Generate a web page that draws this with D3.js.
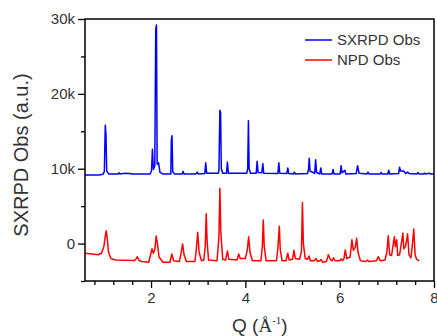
<!DOCTYPE html>
<html>
<head>
<meta charset="utf-8">
<script src="https://cdn.jsdelivr.net/npm/d3@7"></script>
<style>
  body { margin: 0; background: #fff; }
  svg text { font-family: "Liberation Sans", Arial, sans-serif; fill: #333; }
</style>
</head>
<body>
<div id="chart"></div>
<script>
// Q (1/Angstrom), intensity (counts)
var sxrpdObs = [
  [0.60, 9150], [0.90, 9150], [0.98, 9250], [1.01, 9600], [1.03, 15800], [1.045, 14500], [1.06, 9700],
  [1.10, 9300], [1.30, 9300], [1.32, 9450], [1.34, 9300], [1.45, 9400], [1.55, 9350], [1.60, 9280],
  [1.98, 9300], [2.01, 9700], [2.03, 12600], [2.05, 9900], [2.08, 10400], [2.10, 28600], [2.115, 29200],
  [2.13, 10600], [2.16, 10800], [2.19, 9500], [2.25, 9300], [2.42, 9300], [2.43, 13800], [2.445, 14400],
  [2.46, 9600], [2.50, 9300], [2.66, 9300], [2.68, 9650], [2.70, 9300], [2.95, 9300], [2.98, 9550],
  [3.00, 9300], [3.14, 9350], [3.16, 10800], [3.18, 9400], [3.43, 9400], [3.44, 9900], [3.46, 17800],
  [3.475, 17500], [3.49, 10000], [3.52, 9400], [3.60, 9400], [3.62, 10900], [3.64, 9400], [4.03, 9400],
  [4.05, 10000], [4.065, 16400], [4.08, 10000], [4.11, 9400], [4.23, 9400], [4.25, 11000], [4.27, 9500],
  [4.35, 9450], [4.37, 10700], [4.39, 9400], [4.69, 9350], [4.71, 10800], [4.73, 9400], [4.88, 9350],
  [4.90, 10100], [4.92, 9350], [5.02, 9300], [5.04, 9550], [5.06, 9300], [5.32, 9350], [5.34, 10000],
  [5.355, 11400], [5.37, 9700], [5.47, 9400], [5.49, 11200], [5.51, 9500], [5.58, 9300], [5.60, 10100],
  [5.62, 9300], [5.84, 9300], [5.86, 9900], [5.88, 9300], [6.01, 9300], [6.03, 10400], [6.05, 9450],
  [6.11, 9800], [6.13, 9300], [6.35, 9350], [6.38, 10400], [6.41, 9400], [6.58, 9300], [6.60, 9550],
  [6.62, 9300], [6.86, 9300], [6.88, 9500], [6.90, 9300], [7.02, 9300], [7.04, 9800], [7.06, 9300],
  [7.25, 9350], [7.27, 10200], [7.29, 9700], [7.35, 9700], [7.37, 9600], [7.40, 9350], [7.44, 9550],
  [7.47, 9350], [7.64, 9300], [7.66, 9500], [7.68, 9300], [7.78, 9300], [7.80, 9400], [7.82, 9300],
  [7.90, 9400], [7.92, 9300], [8.00, 9300]
];

var npdObs = [
  [0.60, -1300], [0.75, -1400], [0.88, -1500], [0.95, -1300], [1.00, -400], [1.03, 1000], [1.05, 1700],
  [1.07, 800], [1.10, -1200], [1.15, -2000], [1.25, -2200], [1.65, -2250], [1.69, -2000], [1.71, -1750],
  [1.74, -2200], [1.80, -2400], [1.95, -2500], [1.99, -1500], [2.02, -700], [2.05, -1300], [2.08, -800],
  [2.11, 1000], [2.13, 200], [2.17, -1800], [2.25, -2500], [2.40, -2500], [2.44, -1400], [2.48, -2300],
  [2.60, -2400], [2.64, -1200], [2.67, -50], [2.70, -1500], [2.75, -2400], [2.93, -2400], [2.96, -800],
  [2.99, 1500], [3.02, -1200], [3.07, -2300], [3.12, -2200], [3.15, -300], [3.17, 4000], [3.19, 200],
  [3.22, -2200], [3.40, -2300], [3.44, 900], [3.46, 7400], [3.48, 1500], [3.52, -2100], [3.58, -2200],
  [3.62, -1000], [3.65, -2100], [3.82, -2200], [3.86, -1400], [3.89, -2000], [4.00, -2000], [4.04, -900],
  [4.07, 900], [4.10, -1200], [4.15, -2300], [4.33, -2300], [4.36, -400], [4.38, 3150], [4.40, -300],
  [4.44, -2300], [4.66, -2300], [4.69, -600], [4.72, 2300], [4.74, -800], [4.78, -2300], [4.86, -2300],
  [4.90, -1300], [4.93, -2200], [5.00, -2100], [5.03, -900], [5.06, -2000], [5.15, -2100], [5.19, -1000],
  [5.21, 5500], [5.23, 0], [5.27, -2000], [5.32, -2100], [5.35, -1650], [5.38, -2300], [5.46, -2300],
  [5.50, -2000], [5.53, -2400], [5.58, -2300], [5.61, -2150], [5.64, -2500], [5.72, -2400], [5.76, -1500],
  [5.80, -2100], [5.84, -2300], [5.87, -1900], [5.90, -2300], [6.00, -2300], [6.03, -2050], [6.06, -2300],
  [6.09, -2000], [6.12, -850], [6.15, -2000], [6.22, -1800], [6.26, 500], [6.29, -900], [6.33, -500],
  [6.36, 700], [6.39, -1200], [6.44, -2300], [6.55, -2400], [6.59, -2200], [6.62, -2400], [6.78, -2300],
  [6.82, -1750], [6.86, -2300], [6.96, -2200], [7.00, -1200], [7.03, 1050], [7.06, -1500], [7.10, -1600],
  [7.13, -300], [7.16, 900], [7.18, -400], [7.21, 500], [7.23, -1600], [7.27, -1500], [7.30, -300],
  [7.34, 1400], [7.36, -700], [7.40, -300], [7.44, 1300], [7.47, -1500], [7.51, -1900], [7.54, -300],
  [7.57, 1950], [7.60, -1500], [7.63, -2100], [7.69, -2300]
];

var seriesNames = ["SXRPD Obs", "NPD Obs"];
var seriesColors = ["#0000ff", "#ff0000"];
var xMajorTicks = [2, 4, 6, 8];
var xMinorTicks = [0.8, 1.2, 1.6, 2.4, 2.8, 3.2, 3.6, 4.4, 4.8, 5.2, 5.6, 6.4, 6.8, 7.2, 7.6];
var yMajorTicks = [0, 10000, 20000, 30000];
var yTickLabels = ["0", "10k", "20k", "30k"];
var yMinorTicks = [-5000, 5000, 15000, 25000];

var width = 437, height = 336;
var margin = { left: 85, right: 3, top: 19, bottom: 55 };

var svg = d3.select("#chart")
  .append("svg")
  .attr("width", width)
  .attr("height", height);

var x = d3.scaleLinear().domain([0.6, 8]).range([margin.left, width - margin.right]);
var y = d3.scaleLinear().domain([-5000, 30000]).range([height - margin.bottom, margin.top]);

var line = d3.line()
  .x(function (d) { return x(d[0]); })
  .y(function (d) { return y(d[1]); });

// data lines
[sxrpdObs, npdObs].forEach(function (s, i) {
  svg.append("path")
    .datum(s)
    .attr("d", line)
    .attr("fill", "none")
    .attr("stroke", seriesColors[i])
    .attr("stroke-width", 1.5)
    .attr("stroke-linejoin", "round");
});

// frame
svg.append("rect")
  .attr("x", x(0.6))
  .attr("y", y(30000))
  .attr("width", x(8) - x(0.6))
  .attr("height", y(-5000) - y(30000))
  .attr("fill", "none")
  .attr("stroke", "#000")
  .attr("stroke-width", 1.5);

// x axis
svg.append("g")
  .attr("transform", "translate(0," + y(-5000) + ")")
  .call(d3.axisBottom(x).tickValues(xMajorTicks).tickSize(7).tickPadding(4).tickFormat(d3.format("d")));
svg.append("g")
  .attr("transform", "translate(0," + y(-5000) + ")")
  .call(d3.axisBottom(x).tickValues(xMinorTicks).tickSize(4).tickFormat(""));

// y axis
svg.append("g")
  .attr("transform", "translate(" + x(0.6) + ",0)")
  .call(d3.axisLeft(y).tickValues(yMajorTicks).tickSize(7).tickPadding(3)
    .tickFormat(function (d, i) { return yTickLabels[i]; }));
svg.append("g")
  .attr("transform", "translate(" + x(0.6) + ",0)")
  .call(d3.axisLeft(y).tickValues(yMinorTicks).tickSize(4).tickFormat(""));

svg.selectAll(".domain").remove();
svg.selectAll(".tick line").attr("stroke", "#000").attr("stroke-width", 1.3);
svg.selectAll(".tick text").style("font-size", "15px").attr("fill", "#333");

// axis titles
svg.append("text")
  .attr("transform", "translate(28,155) rotate(-90)")
  .attr("text-anchor", "middle")
  .style("font-size", "20px")
  .text("SXRPD Obs (a.u.)");

var xt = svg.append("text")
  .attr("x", 232)
  .attr("y", 332)
  .style("font-size", "19px");
xt.append("tspan").text("Q (");
xt.append("tspan").style("font-family", "'Liberation Serif', serif").text("Å");
xt.append("tspan").attr("dy", -8).style("font-size", "11px").style("font-family", "'Liberation Serif', serif").text("-1");
xt.append("tspan").attr("dy", 8).text(")");

// legend
var legend = svg.append("g");
seriesNames.forEach(function (name, i) {
  var ly = 40 + i * 20;
  legend.append("line")
    .attr("x1", 305).attr("x2", 332)
    .attr("y1", ly).attr("y2", ly)
    .attr("stroke", seriesColors[i])
    .attr("stroke-width", 1.5);
  legend.append("text")
    .attr("x", 337)
    .attr("y", ly + 5)
    .style("font-size", "15px")
    .text(name);
});
</script>
</body>
</html>
